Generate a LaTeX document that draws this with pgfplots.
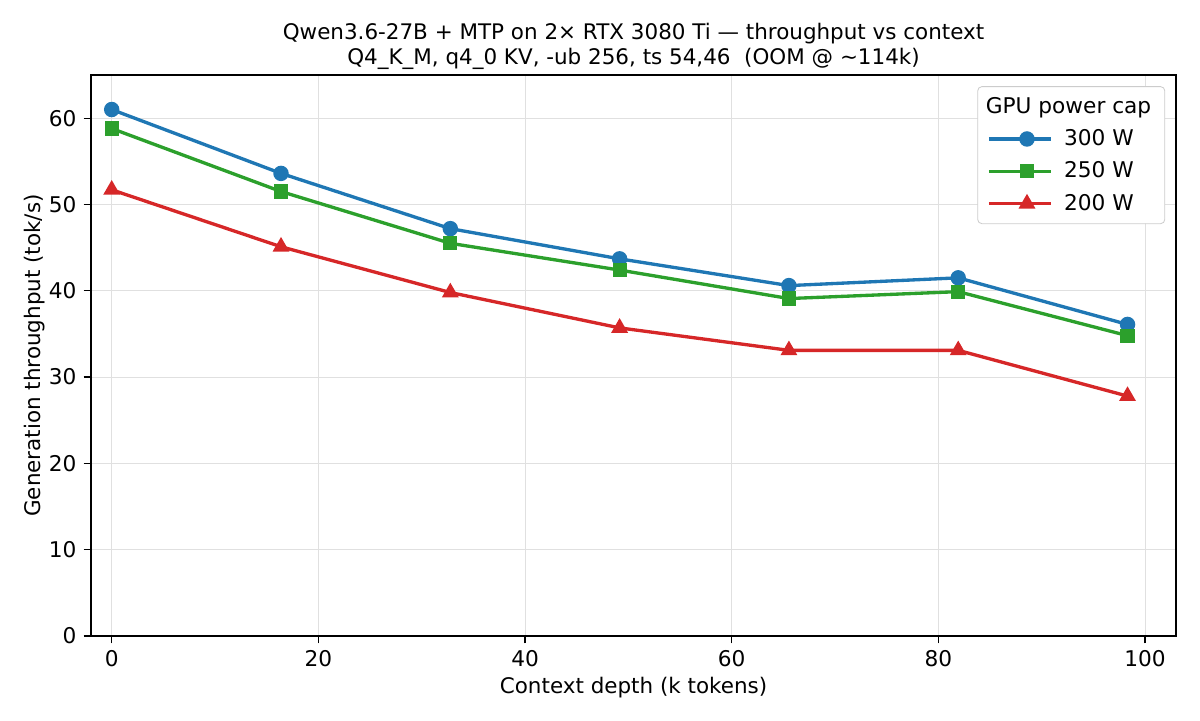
\documentclass[border=0pt]{standalone}
\usepackage{pgfplots}
\pgfplotsset{compat=1.18}
\usepackage{fontspec}
\setmainfont{DejaVu Sans}
\definecolor{tabblue}{HTML}{1F77B4}
\definecolor{tabgreen}{HTML}{2CA02C}
\definecolor{tabred}{HTML}{D62728}
\begin{document}
\begin{tikzpicture}
\path[use as bounding box] (0,0) rectangle (576pt,345.6pt);
\begin{axis}[
  at={(43.7pt,40.3pt)}, anchor=south west,
  scale only axis, width=520.8pt, height=269.3pt,
  xmin=-2, xmax=103, ymin=0, ymax=65,
  xtick={0,20,40,60,80,100}, ytick={0,10,20,30,40,50,60},
  tick align=outside, tick pos=left,
  major tick length=3.5pt,
  every tick/.style={black, line width=0.6pt},
  axis line style={line width=0.6pt},
  grid=major, grid style={black!12, line width=0.5pt},
  /pgf/number format/assume math mode=true,
  ticklabel style={font=\fontsize{10.4}{12}\selectfont},
  xlabel={Context depth (k tokens)}, ylabel={Generation throughput (tok/s)},
  label style={font=\fontsize{10.3}{12}\selectfont},
  xlabel style={yshift=2pt}, ylabel style={yshift=-5pt},
  title={Qwen3.6-27B + MTP on 2× RTX 3080 Ti — throughput vs context\\Q4\_K\_M, q4\_0 KV, -ub 256, ts 54,46\ \ (OOM @ \textasciitilde114k)},
  title style={font=\fontsize{10.3}{12.3}\selectfont, align=center, yshift=-7pt},
  legend style={at={(0.99,0.98)}, anchor=north east, draw=black!20, rounded corners=2pt,
    font=\fontsize{10.4}{13}\selectfont, row sep=2.3pt, inner xsep=4.5pt, inner ysep=3pt},
  legend cell align=left,
  legend image code/.code={\path (0pt,0pt) -- (30pt,0pt);
    \draw[mark repeat=2,mark phase=2,#1] plot coordinates {(7pt,0pt) (18.35pt,0pt) (29.7pt,0pt)};},
  every axis plot/.append style={line width=1.6pt},
]
\addlegendimage{empty legend}
\addlegendentry{\hspace{-34.2pt}GPU power cap}
\addplot[tabblue, mark=*, mark size=2.9pt] coordinates {
(0,61.0) (16.384,53.6) (32.768,47.2) (49.152,43.7) (65.536,40.6) (81.92,41.5) (98.304,36.1)};
\addlegendentry{\hspace{3.4pt}300 W}
\addplot[tabgreen, mark=square*, mark size=2.6pt] coordinates {
(0,58.8) (16.384,51.5) (32.768,45.5) (49.152,42.4) (65.536,39.1) (81.92,39.9) (98.304,34.8)};
\addlegendentry{\hspace{3.4pt}250 W}
\addplot[tabred, mark=triangle*, mark size=3.1pt] coordinates {
(0,51.7) (16.384,45.1) (32.768,39.8) (49.152,35.7) (65.536,33.1) (81.92,33.1) (98.304,27.8)};
\addlegendentry{\hspace{3.4pt}200 W}
\end{axis}
\end{tikzpicture}
\end{document}
